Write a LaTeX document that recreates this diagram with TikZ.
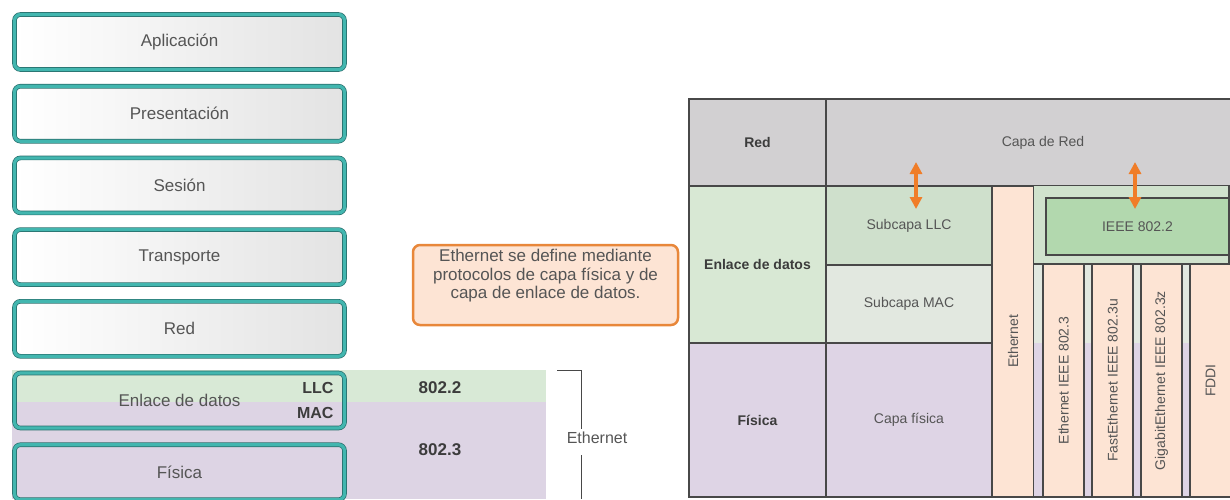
\documentclass[tikz,border=0pt]{standalone}
\usepackage{fontspec}
\setmainfont{Liberation Sans}
\usetikzlibrary{arrows.meta}

\definecolor{ositeal}{RGB}{66,182,175}
\definecolor{osidark}{RGB}{40,110,108}
\definecolor{txtgray}{RGB}{85,85,85}
\definecolor{txtdark}{RGB}{60,60,60}
\definecolor{llcband}{RGB}{216,233,214}
\definecolor{macband}{RGB}{221,212,228}
\definecolor{gridgray}{RGB}{72,72,72}
\definecolor{rowgray}{RGB}{210,208,210}
\definecolor{rowgreen}{RGB}{216,232,212}
\definecolor{llcgreen}{RGB}{207,224,204}
\definecolor{macgreen}{RGB}{226,232,224}
\definecolor{ieeebg}{RGB}{208,226,205}
\definecolor{ieeegreen}{RGB}{178,216,174}
\definecolor{rowpurple}{RGB}{222,212,229}
\definecolor{peach}{RGB}{253,228,212}
\definecolor{noteorange}{RGB}{232,135,58}
\definecolor{arroworange}{RGB}{240,125,40}

\tikzset{
	osibox/.style={draw=osidark, double=ositeal, double distance=3.2pt, line width=0.7pt,
		rounded corners=6pt, minimum width=330pt, minimum height=55pt,
		text=txtgray, font=\fontsize{17}{20}\selectfont},
	osifill/.style={left color=white, right color=black!11},
	boldlbl/.style={text=txtdark, font=\bfseries\fontsize{16}{18}\selectfont},
	cell/.style={draw=gridgray, line width=1.8pt, inner sep=0pt, text=txtgray,
		font=\fontsize{14}{16}\selectfont},
	cellsize/.style 2 args={minimum width=#1, minimum height=#2},
	head/.style={cell, text=txtdark, font=\bfseries\fontsize{14}{16}\selectfont},
	updown/.style={draw=arroworange, line width=3.5pt, <->, >={Triangle[width=12pt,length=12pt]}},
}

\begin{document}
\begin{tikzpicture}[x=1pt, y=-1pt]
	\path[use as bounding box, clip] (0,0) rectangle (1230,499);

	% LLC / MAC bands behind the lower layers
	\fill[llcband] (12,370) rectangle (546,402);
	\fill[macband] (12,402) rectangle (546,499);

	% OSI stack
	\foreach \name/\txt [count=\i from 0] in {apl/Aplicación, pre/Presentación, ses/Sesión, tra/Transporte, red/Red}
		\node[osibox, osifill] (\name) at (179.5,42+71.7*\i) {\txt};
	\node[osibox] (enl) at (179.5,400.5) {Enlace de datos};
	\node[osibox] (fis) at (179.5,472.2) {Física};

	% Sublayers and standards
	\node[boldlbl, anchor=east] (llc) at (337,388) {LLC};
	\node[boldlbl, anchor=east] (mac) at (337,413) {MAC};
	\node[boldlbl, font=\bfseries\fontsize{17}{19}\selectfont] (s8022) at (440,388) {802.2};
	\node[boldlbl, font=\bfseries\fontsize{17}{19}\selectfont] (s8023) at (440,450) {802.3};

	% Bracket
	\coordinate (brtop) at (557,370);
	\coordinate (brbot) at (581,499);
	\node[text=txtgray, font=\fontsize{16}{18}\selectfont] (ethbr) at (597,438) {Ethernet};
	\coordinate (brgap) at ([yshift=-8pt]ethbr.south);
	\draw[gridgray, line width=1pt] (brtop) -- (brtop -| brbot) -- (ethbr.north -| brbot);
	\draw[gridgray, line width=1pt] (brgap -| brbot) -- (brbot);

	% Note
	\coordinate (notec) at (545.5,276);
	\draw[draw=noteorange, fill=peach, line width=2.5pt, rounded corners=7pt]
		([shift={(-132.5pt,31pt)}]notec) rectangle ([shift={(132.5pt,-49pt)}]notec);
	\node[align=center, text=txtgray, font=\fontsize{17}{18.5}\selectfont] (note) at (notec)
		{Ethernet se define mediante\\protocolos de capa física y de\\capa de enlace de datos.};

	% Table, left column
	\node[head, fill=rowgray, cellsize={137}{87}] (tred) at (757.5,142.5) {Red};
	\node[head, fill=rowgreen, cellsize={137}{157}] (tenl) at (757.5,264.5) {Enlace de datos};
	\node[head, fill=rowpurple, cellsize={137}{154}] (tfis) at (757.5,420) {Física};

	% Table, sublayers
	\node[cell, fill=rowgray, cellsize={434}{87}] (capared) at (1043,142.5) {Capa de Red};
	\node[cell, fill=llcgreen, cellsize={166}{79}] (subllc) at (909,225.5) {Subcapa LLC};
	\node[cell, fill=macgreen, cellsize={166}{78}] (submac) at (909,304) {Subcapa MAC};
	\node[cell, fill=rowpurple, cellsize={166}{154}] (capafis) at (909,420) {Capa física};
	\node[cell, fill=peach, rotate=90, cellsize={311}{42}] (ethcol) at (1013,341.5) {Ethernet};

	% Table, standards
	\fill[ieeebg] (1034,186) rectangle (1229,264);
	\fill[macgreen] (1034,264) rectangle (1229,343);
	\fill[rowpurple] (1034,343) rectangle (1229,497);
	\draw[gridgray, line width=1.8pt] (1034,264) -- (1229,264) (1229,186) -- (1229,497) -- (1034,497);
	\node[cell, fill=ieeegreen, cellsize={183}{57}] (ieee) at (1137.5,226.5) {IEEE 802.2};
	\foreach \name/\txt [count=\i from 0] in {e8023/Ethernet IEEE 802.3, fe8023u/FastEthernet IEEE 802.3u, ge8023z/GigabitEthernet IEEE 802.3z, fddi/FDDI}
		\node[cell, fill=peach, rotate=90, cellsize={233}{41}] (\name) at (1063.5+49*\i,380.5) {\txt};

	% Arrows to the network layer
	\coordinate (llcup) at (916,162);
	\coordinate (llcdn) at (916,209);
	\coordinate (ieeeup) at (1135,162);
	\coordinate (ieeedn) at (1135,209);
	\draw[updown] (llcup) -- (llcdn);
	\draw[updown] (ieeeup) -- (ieeedn);

\end{tikzpicture}
\end{document}
